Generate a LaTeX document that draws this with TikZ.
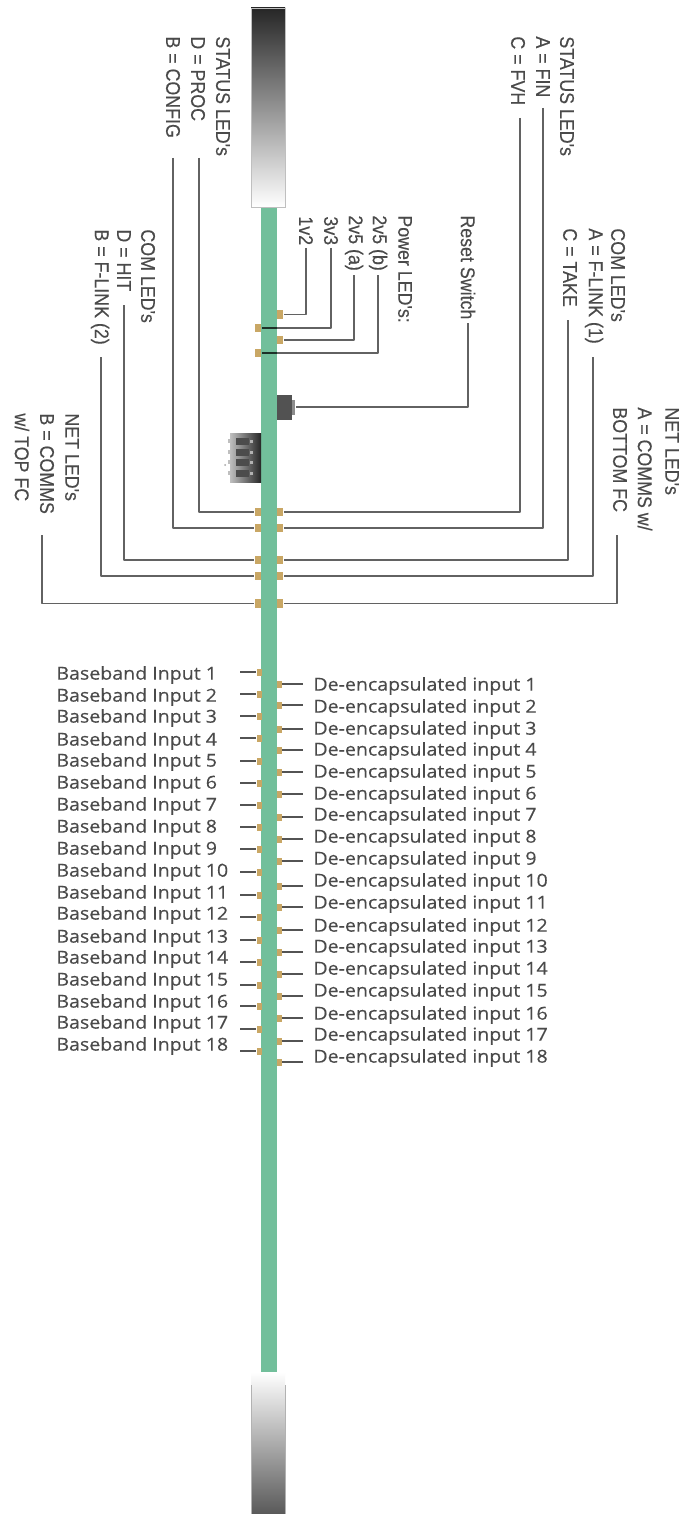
\documentclass[tikz,border=0pt]{standalone}
\usepackage{fontspec}
\setmainfont{Liberation Sans}
\newfontfamily\vfont[FakeStretch=0.9,FakeBold=0.25]{Liberation Sans}
\newfontfamily\bbfont[FakeStretch=1.1,FakeBold=0.35]{Open Sans}
\definecolor{pcb}{HTML}{72BF9B}
\definecolor{pad}{HTML}{C9A765}
\definecolor{wire}{HTML}{626262}
\definecolor{ink}{HTML}{4A4A4A}
\tikzset{
  vlabel/.style={rotate=-90,anchor=west,inner sep=0pt,text=ink,font=\vfont\fontsize{9.9}{11}\selectfont},
  hlabel/.style={anchor=west,inner sep=0pt,text=ink,font=\bbfont\fontsize{8.9}{10}\selectfont},
  ledpad/.style={fill=pad,inner sep=0pt,minimum width=3.4pt,minimum height=4.4pt,draw=none},
  wireline/.style={draw=wire,line width=0.9pt,line join=round},
  stubline/.style={draw=wire!85!black,line width=0.6pt},
}
\begin{document}
\begin{tikzpicture}[x=0.5pt,y=-0.5pt]
\useasboundingbox[fill=white] (0,0) rectangle (684,1514);
% board and end pieces
\fill[pcb] (261,205) rectangle (277,1374);
\shade[top color=black!85,bottom color=white,draw=black!25,line width=0.4pt] (251,8) rectangle (285,207);
\shade[top color=white,middle color=black!22,bottom color=black!65] (251,1372) rectangle (285,1514);
\draw[black!30,line width=0.4pt] (251,1385) -- (251,1514) (285,1385) -- (285,1514);
% reset switch
\fill[black!68] (277,395) rectangle (292,420);
\fill[black!45] (292,400) rectangle (295,415);
% connector
\shade[left color=black!25,right color=black!85] (230,433) rectangle (261,482);
\foreach \py in {438,449,459,470}{
  \fill[black!70] (236,\py) rectangle (249,\py+6.5);
  \fill[black!30] (250,\py+1.5) rectangle (253,\py+4.5);
  \fill[white!75!black] (228,\py+1) rectangle (231,\py+5);
}
\fill[black!35] (225,465) circle (0.5pt);
% pads: upper group
\foreach \nm/\px/\py in {p12/280/314.5,p33/258/328,p25a/280/340,p25b/258/353,
  sl1/258/512,sr1/280/512,sl2/258/528,sr2/280/528,
  cl1/258/560,cr1/280/560,cl2/258/576,cr2/280/576,
  nl/258/603.5,nr/280/603.5}{
  \node[ledpad] (\nm) at (\px,\py) {};
}
% vertical labels
\node[vlabel] (t1) at (223,36) {STATUS LED's};
\node[vlabel] (t2) at (198,36) {D = PROC};
\node[vlabel] (t3) at (173,36) {B = CONFIG};
\node[vlabel] (t4) at (567,36) {STATUS LED's};
\node[vlabel] (t5) at (543,36) {A = FIN};
\node[vlabel] (t6) at (518,36) {C = FVH};
\node[vlabel] (t7) at (148,229) {COM LED's};
\node[vlabel] (t8) at (124,229) {D = HIT};
\node[vlabel] (t9) at (100,229) {B = F-LINK (2)};
\node[vlabel] (t10) at (618,228) {COM LED's};
\node[vlabel] (t11) at (594,228) {A = F-LINK (1)};
\node[vlabel] (t12) at (570,228) {C = TAKE};
\node[vlabel] (t13) at (72,413) {NET LED's};
\node[vlabel] (t14) at (47,413) {B = COMMS};
\node[vlabel] (t15) at (22,413) {w/ TOP FC};
\node[vlabel] (t16) at (672,407) {NET LED's};
\node[vlabel] (t17) at (645,407) {A = COMMS w/};
\node[vlabel] (t18) at (620,407) {BOTTOM FC};
\node[vlabel] (t19) at (306,216) {1v2};
\node[vlabel] (t20) at (331,216) {3v3};
\node[vlabel] (t21) at (354,215) {2v5 (a)};
\node[vlabel] (t22) at (378,215) {2v5 (b)};
\node[vlabel] (t23) at (405,215) {Power LED's:};
\node[vlabel] (t24) at (468,215) {Reset Switch};
% free ends of the leaders
\foreach \nm/\px/\py in {e12/306/248,e33/331/248,e25a/354/275,e25b/378/275,er/468/323,
  es1/199/158,es2/173/158,es3/520/118,es4/543/108,
  ec1/124/305,ec2/101/357,ec3/568/320,ec4/593/357,en1/42/535,en2/617/535}{
  \coordinate (\nm) at (\px,\py);
}
\coordinate (sw) at (296,407);
% power leaders
\draw[wireline] (e12) -- (e12 |- p12) -- (p12.east);
\draw[wireline] (e33) -- (e33 |- p33) -- (277,328);
\draw[wireline,draw=black!75!pcb] (277,328) -- (p33.east);
\draw[wireline] (e25a) -- (e25a |- p25a) -- (p25a.east);
\draw[wireline] (e25b) -- (e25b |- p25b) -- (277,353);
\draw[wireline,draw=black!75!pcb] (277,353) -- (p25b.east);
\draw[wireline] (er) -- (er |- sw) -- (sw);
% status, com, net leaders
\draw[wireline] (es1) -- (es1 |- sl1) -- (sl1.west);
\draw[wireline] (es2) -- (es2 |- sl2) -- (sl2.west);
\draw[wireline] (es3) -- (es3 |- sr1) -- (sr1.east);
\draw[wireline] (es4) -- (es4 |- sr2) -- (sr2.east);
\draw[wireline] (ec1) -- (ec1 |- cl1) -- (cl1.west);
\draw[wireline] (ec2) -- (ec2 |- cl2) -- (cl2.west);
\draw[wireline] (ec3) -- (ec3 |- cr1) -- (cr1.east);
\draw[wireline] (ec4) -- (ec4 |- cr2) -- (cr2.east);
\draw[wireline] (en1) -- (en1 |- nl) -- (nl.west);
\draw[wireline] (en2) -- (en2 |- nr) -- (nr.east);
% baseband inputs
\foreach \k/\ty/\ly in {1/675/672,2/697/694,3/718/716,4/741/738,5/762/761,6/784/783,7/806/805,8/828/827,9/850/849,10/872/872,11/894/895,12/915/917,13/938/940,14/959/962,15/981/985,16/1003/1006,17/1024/1029,18/1046/1051}{
  \node[hlabel] (bb\k) at (56,\ty) {Baseband Input \k};
  \node[ledpad,minimum width=2.5pt,minimum height=3.5pt] (bp\k) at (259,\ly) {};
  \coordinate (bs\k) at (240,\ly);
  \draw[stubline] (bs\k) -- (bp\k);
}
% de-encapsulated inputs
\foreach \k/\ty/\ly in {1/686/684,2/708/705,3/730/729,4/751/750,5/773/772,6/795/794,7/816/817,8/838/839,9/860/861,10/882/886,11/904/907,12/927/930,13/948/952,14/970/974,15/992/996,16/1015/1018,17/1036/1041,18/1058/1062}{
  \node[hlabel] (de\k) at (313,\ty) {De-encapsulated input \k};
  \node[ledpad,minimum width=2.5pt,minimum height=3.5pt] (dp\k) at (279,\ly) {};
  \coordinate (ds\k) at (303,\ly);
  \draw[stubline] (dp\k) -- (ds\k);
}
\end{tikzpicture}
\end{document}
